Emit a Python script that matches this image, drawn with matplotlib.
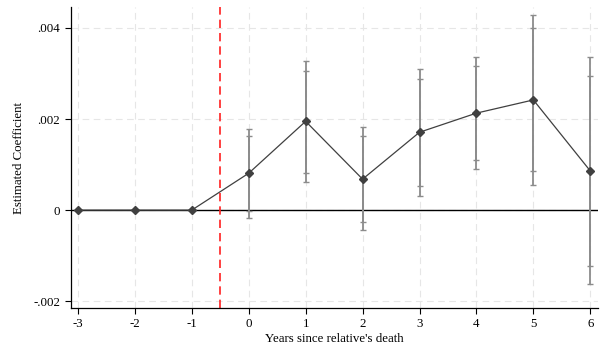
import numpy as np
import matplotlib
matplotlib.use("Agg")
import matplotlib.pyplot as plt
from matplotlib.ticker import FuncFormatter

plt.rcParams['font.family'] = ['Liberation Serif', 'DejaVu Serif']
plt.rcParams['axes.unicode_minus'] = False

years = [-3, -2, -1, 0, 1, 2, 3, 4, 5, 6]
coef = [0, 0, 0, 0.00081, 0.00195, 0.00068, 0.00171, 0.00213, 0.00242, 0.00086]
# 95% interval
lo95 = [0, 0, 0, -0.00017, 0.00062, -0.00044, 0.00031, 0.00091, 0.00055, -0.00163]
hi95 = [0, 0, 0, 0.00178, 0.00328, 0.00182, 0.00309, 0.00336, 0.00429, 0.00336]
# 90% interval
lo90 = [0, 0, 0, -0.00001, 0.00082, -0.00026, 0.00054, 0.00111, 0.00085, -0.00122]
hi90 = [0, 0, 0, 0.00163, 0.00306, 0.00163, 0.00287, 0.00316, 0.00399, 0.00295]
yticks = [-0.002, 0, 0.002, 0.004]

x = np.array(years)
c = np.array(coef)
m = x >= 0

fig = plt.figure(figsize=(6.08, 3.52), dpi=100)
ax = fig.add_axes([0.116, 0.125, 0.868, 0.855])

for v in years:
    ax.axvline(v, color='#e6e6e6', lw=0.8, ls=(0, (6, 4)), zorder=0)
for v in yticks:
    ax.axhline(v, color='#e6e6e6', lw=0.8, ls=(0, (6, 4)), zorder=0)

ax.axhline(0, color='black', lw=1.0, zorder=1)
ax.axvline(-0.5, color='#ff2020', lw=1.2, ls=(0, (5, 3)), zorder=2)

ax.errorbar(x[m], c[m], yerr=[c[m] - np.array(lo95)[m], np.array(hi95)[m] - c[m]],
            fmt='none', ecolor='#8c8c8c', elinewidth=1.3, capsize=2, capthick=1.0, zorder=3)
ax.errorbar(x[m], c[m], yerr=[c[m] - np.array(lo90)[m], np.array(hi90)[m] - c[m]],
            fmt='none', ecolor='#8c8c8c', elinewidth=1.3, capsize=2, capthick=1.0, zorder=3)

ax.plot(x, c, color='#404040', lw=0.9, marker='D', ms=4, mfc='#404040', mec='#404040', zorder=4)

ax.set_xlim(-3.13, 6.14)
ax.set_ylim(-0.00215, 0.00446)
ax.set_xticks(years)
ax.set_yticks(yticks)
ax.yaxis.set_major_formatter(FuncFormatter(
    lambda v, p: '0' if abs(v) < 1e-12 else ('%.3f' % v).replace('0.', '.')))
ax.tick_params(labelsize=9.3, length=4, width=0.8, color='black')

for s in ['top', 'right']:
    ax.spines[s].set_visible(False)
for s in ['left', 'bottom']:
    ax.spines[s].set_linewidth(0.9)

ax.set_xlabel("Years since relative's death", fontsize=9.3, labelpad=2)
ax.set_ylabel("Estimated Coefficient", fontsize=9.3, labelpad=6)

fig.savefig("out.png", dpi=100)
